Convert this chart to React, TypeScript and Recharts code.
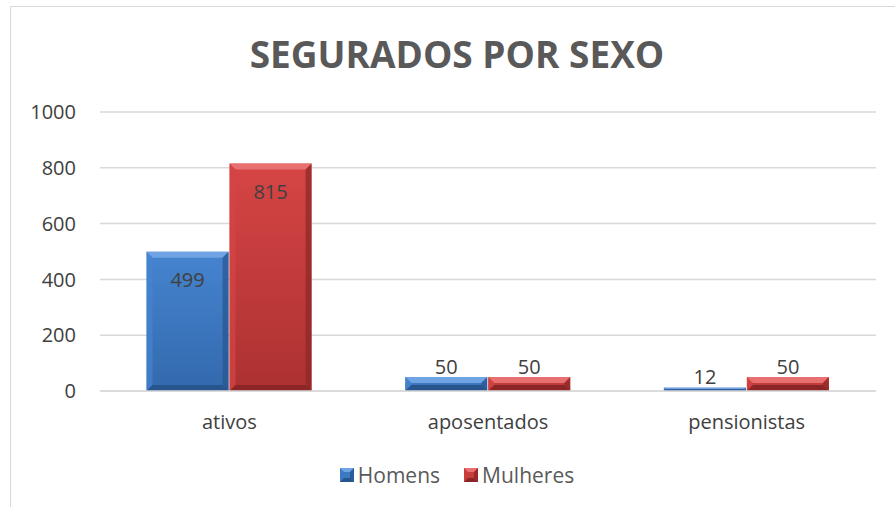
import React from 'react';
import { Bar, BarChart, CartesianGrid, LabelList, XAxis, YAxis } from 'recharts';

const categories = ['ativos', 'aposentados', 'pensionistas'];
const homens = [499, 50, 12];
const mulheres = [815, 50, 50];
const yTicks = [0, 200, 400, 600, 800, 1000];

const data = categories.map((name, i) => ({ name, Homens: homens[i], Mulheres: mulheres[i] }));

const FONT = '"Open Sans", Calibri, sans-serif';

const palette = {
  Homens: { top: '#6fa3e3', light: '#4684d0', main: '#3d78c3', dark: '#3369ad', edge: '#27568f' },
  Mulheres: { top: '#e87070', light: '#d64545', main: '#c83c3c', dark: '#ad3131', edge: '#8c2626' },
};

type Key = keyof typeof palette;

const BevelBar = (key: Key) => (props: any) => {
  const { x, y, width, height } = props;
  if (!height || height <= 0) return null;
  const c = palette[key];
  const b = Math.min(6, height / 2, width / 2);
  const gid = `g-${key}`;
  return (
    <g>
      <defs>
        <linearGradient id={gid} x1="0" y1="0" x2="0" y2="1">
          <stop offset="0%" stopColor={c.light} />
          <stop offset="100%" stopColor={c.dark} />
        </linearGradient>
      </defs>
      <rect x={x} y={y} width={width} height={height} fill={`url(#${gid})`} />
      <polygon points={`${x},${y} ${x + width},${y} ${x + width - b},${y + b} ${x + b},${y + b}`} fill={c.top} />
      <polygon points={`${x},${y} ${x + b},${y + b} ${x + b},${y + height - b} ${x},${y + height}`} fill={c.light} opacity={0.7} />
      <polygon points={`${x + width},${y} ${x + width},${y + height} ${x + width - b},${y + height - b} ${x + width - b},${y + b}`} fill={c.edge} opacity={0.7} />
      <polygon points={`${x},${y + height} ${x + width},${y + height} ${x + width - b},${y + height - b} ${x + b},${y + height - b}`} fill={c.edge} />
    </g>
  );
};

const ValueLabel = (props: any) => {
  const { x, y, width, height, value } = props;
  const inside = height > 60;
  return (
    <text
      x={x + width / 2}
      y={inside ? y + 28 : y - 11}
      textAnchor="middle"
      dominantBaseline="central"
      fill="#404040"
      fontSize={20}
      fontFamily={FONT}
    >
      {value}
    </text>
  );
};

const LegendSwatch = ({ k }: { k: Key }) => {
  const c = palette[k];
  return (
    <svg width={14} height={14} style={{ marginRight: 4 }}>
      <rect x={0} y={0} width={14} height={14} fill={c.main} />
      <polygon points="0,0 14,0 10,4 4,4" fill={c.top} />
      <polygon points="0,14 14,14 10,10 4,10" fill={c.edge} />
      <polygon points="14,0 14,14 10,10 10,4" fill={c.edge} opacity={0.8} />
      <rect x={4} y={4} width={6} height={6} fill={c.main} />
    </svg>
  );
};

export default function App() {
  return (
    <div style={{ position: 'absolute', left: 0, top: 0, width: 895, height: 507, overflow: 'hidden', background: '#fff', fontFamily: FONT }}>
      <div style={{ position: 'absolute', left: 10, top: 6, width: 900, height: 520, border: '1px solid #d9d9d9' }} />
      <div style={{ position: 'absolute', left: 0, top: 28, width: 914, textAlign: 'center', fontSize: 37, fontWeight: 700, color: '#595959' }}>
        SEGURADOS POR SEXO
      </div>
      <div style={{ position: 'absolute', left: 0, top: 0 }}>
        <BarChart
          width={895}
          height={507}
          data={data}
          margin={{ top: 112, right: 19, bottom: 0, left: 0 }}
          barCategoryGap="18%"
          barGap={1}
        >
          <CartesianGrid vertical={false} stroke="#d9d9d9" strokeWidth={1.5} />
          <XAxis
            dataKey="name"
            height={116}
            tickLine={false}
            axisLine={{ stroke: '#d9d9d9', strokeWidth: 1.5 }}
            tick={{ fill: '#404040', fontSize: 20, fontFamily: FONT }}
            tickMargin={18}
          />
          <YAxis
            width={100}
            domain={[0, 1000]}
            ticks={yTicks}
            tickLine={false}
            axisLine={false}
            tickSize={0}
            tickMargin={24}
            tick={{ fill: '#404040', fontSize: 20, fontFamily: FONT }}
          />
          <Bar dataKey="Homens" isAnimationActive={false} shape={BevelBar('Homens')}>
            <LabelList dataKey="Homens" content={ValueLabel} />
          </Bar>
          <Bar dataKey="Mulheres" isAnimationActive={false} shape={BevelBar('Mulheres')}>
            <LabelList dataKey="Mulheres" content={ValueLabel} />
          </Bar>
        </BarChart>
      </div>
      <div style={{ position: 'absolute', left: 0, top: 461, width: 914, display: 'flex', justifyContent: 'center', alignItems: 'center', fontSize: 21, color: '#595959' }}>
        <LegendSwatch k="Homens" />
        <span style={{ marginRight: 24 }}>Homens</span>
        <LegendSwatch k="Mulheres" />
        <span>Mulheres</span>
      </div>
    </div>
  );
}
